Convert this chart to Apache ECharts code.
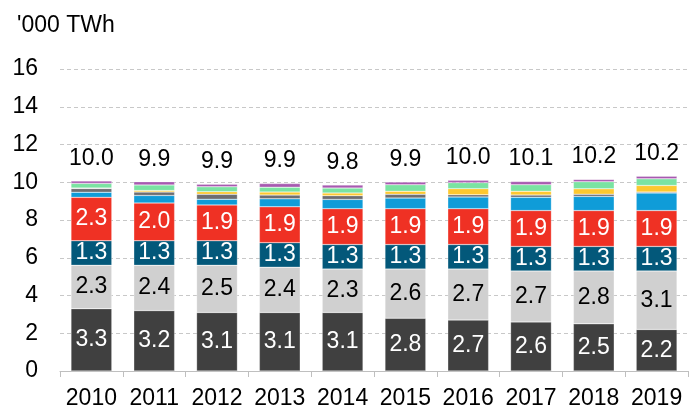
<!DOCTYPE html>
<html>
<head>
<meta charset="utf-8">
<script src="https://cdn.jsdelivr.net/npm/echarts@6/dist/echarts.min.js"></script>
<style>
    html, body { margin: 0; padding: 0; background: #fff; }
    #chart { width: 699px; height: 410px; }
</style>
</head>
<body>
<div id="chart"></div>
<script>
    // 年份
    const years = ["2010", "2011", "2012", "2013", "2014", "2015", "2016", "2017", "2018", "2019"];
    // 各段数据 ('000 TWh)
    const coal    = [3.3, 3.2, 3.1, 3.1, 3.1, 2.8, 2.7, 2.6, 2.5, 2.2];
    const gas     = [2.3, 2.4, 2.5, 2.4, 2.3, 2.6, 2.7, 2.7, 2.8, 3.1];
    const nuclear = [1.3, 1.3, 1.3, 1.3, 1.3, 1.3, 1.3, 1.3, 1.3, 1.3];
    const hydro   = [2.3, 2.0, 1.9, 1.9, 1.9, 1.9, 1.9, 1.9, 1.9, 1.9];
    const wind    = [0.27, 0.40, 0.30, 0.42, 0.49, 0.56, 0.62, 0.70, 0.75, 0.93];
    const oil     = [0.20, 0.18, 0.26, 0.20, 0.20, 0.20, 0.12, 0.12, 0.12, 0.05];
    const solar   = [0.02, 0.08, 0.14, 0.16, 0.14, 0.16, 0.32, 0.20, 0.28, 0.35];
    const bio     = [0.25, 0.30, 0.26, 0.26, 0.26, 0.35, 0.32, 0.35, 0.38, 0.35];
    const other   = [0.13, 0.17, 0.14, 0.19, 0.16, 0.14, 0.12, 0.17, 0.12, 0.14];
    // 顶部合计
    const totals  = ["10.0", "9.9", "9.9", "9.9", "9.8", "9.9", "10.0", "10.1", "10.2", "10.2"];

    const font = "Liberation Sans, Arial, sans-serif";

    function seg(name, data, color, labelColor) {
        const s = {
            name: name,
            type: "bar",
            stack: "all",
            barWidth: "65%",
            data: data,
            itemStyle: { color: color, borderColor: "rgba(255,255,255,0.5)", borderWidth: 0.5 }
        };
        if (labelColor) {
            s.label = {
                show: true,
                position: "inside",
                color: labelColor,
                fontFamily: font,
                fontSize: 23,
                formatter: p => p.value.toFixed(1)
            };
        }
        return s;
    }

    const chart = echarts.init(document.getElementById("chart"));
    const series = [
        seg("coal", coal, "#404040", "#fff"),
        seg("gas", gas, "#d0d0d0", "#000"),
        seg("nuclear", nuclear, "#03587a", "#fff"),
        seg("hydro", hydro, "#ef3124", "#fff"),
        seg("wind", wind, "#0f9cd8"),
        seg("oil", oil, "#6d6e71"),
        seg("solar", solar, "#fdc82f"),
        seg("bio", bio, "#7ae3a2"),
        seg("other", other, "#a75ab0")
    ];
    series[8].label = {
        show: true,
        position: "top",
        distance: 11,
        color: "#000",
        fontFamily: font,
        fontSize: 23,
        formatter: p => totals[p.dataIndex]
    };

    chart.setOption({
        animation: false,
        textStyle: { fontFamily: font },
        grid: { left: 60, right: 11, top: 69, bottom: 38 },
        graphic: [{
            type: "text",
            left: 17,
            top: 14,
            style: { text: "'000 TWh", fontFamily: font, fontSize: 23, fill: "#000" }
        }],
        xAxis: {
            type: "category",
            data: years,
            axisLine: { lineStyle: { color: "#bfbfbf" } },
            axisTick: { show: true, length: 6, lineStyle: { color: "#bfbfbf" } },
            axisLabel: { color: "#000", fontSize: 23, margin: 16, fontFamily: font, interval: 0 }
        },
        yAxis: {
            type: "value",
            min: 0,
            max: 16,
            interval: 2,
            axisLine: { show: false },
            axisTick: { show: false },
            axisLabel: { color: "#000", fontSize: 23, margin: 22, fontFamily: font },
            splitLine: { lineStyle: { color: "#c8c8c8", type: [4, 3] } }
        },
        series: series
    });
</script>
</body>
</html>
